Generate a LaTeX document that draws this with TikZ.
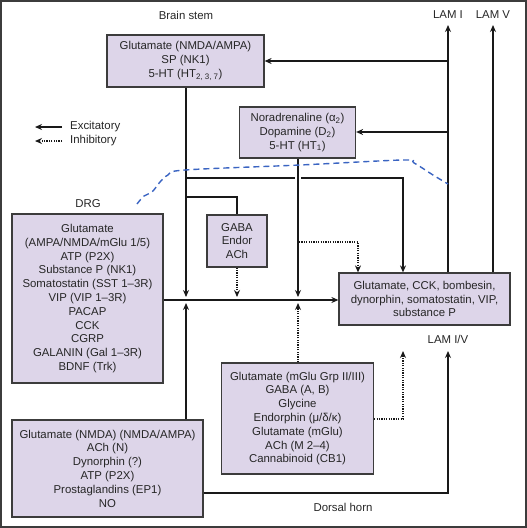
\documentclass[tikz,border=0pt]{standalone}
\usepackage{fontspec}
\setmainfont{Liberation Sans}
\usetikzlibrary{arrows.meta}
\definecolor{boxfill}{HTML}{DDD5E9}
\definecolor{boxline}{HTML}{3C3C3C}
\definecolor{txt}{HTML}{262626}
\definecolor{curve}{HTML}{3A64C2}
\tikzset{
  nbox/.style={draw=boxline, line width=1.2pt, fill=boxfill, align=center, inner sep=0pt, text=txt,
     font=\fontsize{11.4}{13.8}\selectfont},
  lbl/.style={text=txt, font=\fontsize{11.4}{13.8}\selectfont, inner sep=0pt},
  exc/.style={draw=black!90, line width=1.4pt, -{Stealth[length=7pt,width=6pt]}},
  inh/.style={draw=black!90, line width=1.2pt, dash pattern=on 1.2pt off 1.2pt, -{Stealth[length=7pt,width=6pt]}},
  plain/.style={draw=black!90, line width=1.4pt},
}
\begin{document}
\begin{tikzpicture}[x=1pt,y=-1pt]
\useasboundingbox (0,0) rectangle (527,528);
\draw[draw=boxline, line width=1.5pt] (0.8,0.8) rectangle (526.2,527.2);

% labels
\node[lbl] (brainstem) at (186,15) {Brain stem};
\node[lbl] (lamI) at (448,15) {LAM I};
\node[lbl] (lamV) at (493,15) {LAM V};
\node[lbl] (drg) at (88,204) {DRG};
\node[lbl] (lamIV) at (448,339) {LAM I/V};
\node[lbl] (dorsal) at (343,507) {Dorsal horn};

% boxes
\node[nbox, minimum width=157pt, minimum height=52pt] (A) at (185.5,61)
  {Glutamate (NMDA/AMPA)\\SP (NK1)\\5-HT (HT\textsubscript{2, 3, 7})};
\node[nbox, minimum width=116pt, minimum height=51pt] (B) at (297.5,132.5)
  {Noradrenaline (α\textsubscript{2})\\Dopamine (D\textsubscript{2})\\5-HT (HT\textsubscript{1})};
\node[nbox, minimum width=60pt, minimum height=52pt] (C) at (237,241)
  {GABA\\Endor\\ACh};
\node[nbox, minimum width=171pt, minimum height=52pt] (D) at (424.5,299)
  {Glutamate, CCK, bombesin,\\dynorphin, somatostatin, VIP,\\substance P};
\node[nbox, minimum width=151pt, minimum height=169pt] (G) at (87.5,298.5)
  {Glutamate\\(AMPA/NMDA/mGlu 1/5)\\ATP (P2X)\\Substance P (NK1)\\Somatostatin (SST 1–3R)\\VIP (VIP 1–3R)\\PACAP\\CCK\\CGRP\\GALANIN (Gal 1–3R)\\BDNF (Trk)};
\node[nbox, minimum width=152pt, minimum height=111pt] (E) at (297.5,418.5)
  {Glutamate (mGlu Grp II/III)\\GABA (A, B)\\Glycine\\Endorphin (μ/δ/κ)\\Glutamate (mGlu)\\ACh (M 2–4)\\Cannabinoid (CB1)};
\node[nbox, minimum width=191pt, minimum height=97pt] (F) at (107.5,468.5)
  {Glutamate (NMDA) (NMDA/AMPA)\\ACh (N)\\Dynorphin (?)\\ATP (P2X)\\Prostaglandins (EP1)\\NO};

% coordinates
\coordinate (lamItop) at (448,25);
\coordinate (lamVtop) at (493,25);
\coordinate (jA) at (448,61);
\coordinate (jB) at (448,132);
\coordinate (downA) at (186,297);
\coordinate (downB) at (298,297);
\coordinate (downC) at (237,297);
\coordinate (upF) at (186,303);
\coordinate (upE) at (298,303);
\coordinate (h1) at (186,178);
\coordinate (h2) at (295,178);
\coordinate (h3) at (301,178);
\coordinate (h4) at (403,178);
\coordinate (g1) at (186,197);
\coordinate (g2) at (237,197);
\coordinate (d1) at (299,242);
\coordinate (d2) at (358,242);
\coordinate (e1) at (403,419);
\coordinate (e2) at (403,351);
\coordinate (f1) at (448,493);
\coordinate (f2) at (448,351);

% connectors
\draw[exc] (D.north -| lamItop) -- (lamItop);
\draw[exc] (D.north -| lamVtop) -- (lamVtop);
\draw[exc] (jA) -- (A.east |- jA);
\draw[exc] (jB) -- (B.east |- jB);
\draw[exc] (A.south -| downA) -- (downA);
\draw[exc] (B.south -| downB) -- (downB);
\draw[plain] (g1) -- (g2) -- (C.north -| g2);
\draw[inh] (C.south -| downC) -- (downC);
\draw[plain] (h1) -- (h2);
\draw[exc] (h3) -- (h4) -- (D.north -| h4);
\draw[inh] (d1) -- (d2) -- (D.north -| d2);
\draw[exc] (G.east |- 0,300) -- (D.west |- 0,300);
\draw[exc] (F.north -| upF) -- (upF);
\draw[inh] (E.north -| upE) -- (upE);
\draw[inh] (E.east |- e1) -- (e1) -- (e2);
\draw[exc] (F.east |- f1) -- (f1) -- (f2);

% legend
\coordinate (le1) at (62,127);
\coordinate (le2) at (35,127);
\coordinate (li1) at (62,141);
\coordinate (li2) at (35,141);
\draw[exc] (le1) -- (le2);
\draw[inh] (li1) -- (li2);
\node[lbl, anchor=west] (excl) at (70,127) {Excitatory};
\node[lbl, anchor=west] (inhl) at (70,141) {Inhibitory};

% blue dashed boundary
\draw[curve, line width=1.4pt, dash pattern=on 6pt off 4pt]
  plot[smooth, tension=0.55] coordinates {(137,204) (144,196) (152,192) (160,182) (168,175) (185,170) (300,165) (403,160) (414,163) (433,175) (448,184)};
\end{tikzpicture}
\end{document}
